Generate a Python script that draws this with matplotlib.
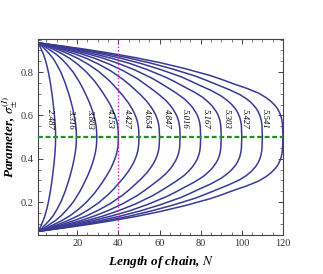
import matplotlib
matplotlib.use("Agg")
import matplotlib.pyplot as plt
from matplotlib.ticker import MultipleLocator

# Upper branch of each closed curve (N, sigma); lower branch mirrors about 0.5
curve_N = [
    [1, 1.85, 2.7, 3.55, 4.4, 5.25, 6.1, 6.95, 7.38, 7.8, 8.23, 8.65, 8.91, 9.08, 9.25, 9.33, 9.42, 9.46, 9.48, 9.5],
    [1, 2.86, 4.72, 6.58, 8.44, 10.3, 12.16, 14.02, 14.95, 15.88, 16.81, 17.74, 18.3, 18.67, 19.04, 19.23, 19.41, 19.51, 19.56, 19.6],
    [1, 3.85, 6.7, 9.55, 12.4, 15.25, 18.1, 20.95, 22.38, 23.8, 25.23, 26.65, 27.51, 28.08, 28.65, 28.93, 29.22, 29.36, 29.44, 29.5],
    [1, 4.9, 8.8, 12.7, 16.6, 20.5, 24.4, 28.3, 30.25, 32.2, 34.15, 36.1, 37.27, 38.05, 38.83, 39.22, 39.61, 39.81, 39.92, 40],
    [1, 5.9, 10.8, 15.7, 20.6, 25.5, 30.4, 35.3, 37.75, 40.2, 42.65, 45.1, 46.57, 47.55, 48.53, 49.02, 49.51, 49.76, 49.9, 50],
    [1, 6.9, 12.8, 18.7, 24.6, 30.5, 36.4, 42.3, 45.25, 48.2, 51.15, 54.1, 55.87, 57.05, 58.23, 58.82, 59.41, 59.71, 59.88, 60],
    [1, 7.9, 14.8, 21.7, 28.6, 35.5, 42.4, 49.3, 52.75, 56.2, 59.65, 63.1, 65.17, 66.55, 67.93, 68.62, 69.31, 69.66, 69.86, 70],
    [1, 8.9, 16.8, 24.7, 32.6, 40.5, 48.4, 56.3, 60.25, 64.2, 68.15, 72.1, 74.47, 76.05, 77.63, 78.42, 79.21, 79.61, 79.84, 80],
    [1, 9.9, 18.8, 27.7, 36.6, 45.5, 54.4, 63.3, 67.75, 72.2, 76.65, 81.1, 83.77, 85.55, 87.33, 88.22, 89.11, 89.56, 89.82, 90],
    [1, 10.9, 20.8, 30.7, 40.6, 50.5, 60.4, 70.3, 75.25, 80.2, 85.15, 90.1, 93.07, 95.05, 97.03, 98.02, 99.01, 99.5, 99.8, 100],
    [1, 11.9, 22.8, 33.7, 44.6, 55.5, 66.4, 77.3, 82.75, 88.2, 93.65, 99.1, 102.37, 104.55, 106.73, 107.82, 108.91, 109.46, 109.78, 110],
    [1, 12.9, 24.8, 36.7, 48.6, 60.5, 72.4, 84.3, 90.25, 96.2, 102.15, 108.1, 111.67, 114.05, 116.43, 117.62, 118.81, 119.41, 119.76, 120],
]
curve_sigma = [
    [.935, .920, .902, .883, .860, .830, .795, .750, .723, .695, .663, .628, .603, .585, .564, .552, .537, .526, .516, .500],
    [.935, .920, .902, .883, .861, .831, .797, .753, .727, .700, .669, .635, .610, .592, .571, .559, .543, .531, .520, .500],
    [.935, .920, .902, .884, .861, .832, .799, .756, .731, .704, .675, .642, .618, .600, .578, .566, .549, .536, .524, .500],
    [.935, .920, .903, .884, .862, .834, .801, .760, .735, .709, .680, .649, .625, .607, .586, .573, .555, .541, .528, .500],
    [.935, .920, .903, .884, .862, .835, .803, .763, .739, .713, .686, .655, .632, .615, .593, .579, .561, .546, .532, .500],
    [.935, .920, .903, .884, .863, .836, .805, .766, .743, .718, .692, .662, .639, .622, .600, .586, .567, .551, .536, .500],
    [.935, .920, .903, .885, .863, .837, .806, .769, .746, .722, .697, .669, .647, .629, .607, .593, .573, .556, .540, .500],
    [.935, .920, .903, .885, .864, .838, .808, .772, .750, .727, .703, .676, .654, .637, .614, .600, .579, .562, .544, .500],
    [.935, .920, .904, .885, .864, .840, .810, .775, .754, .731, .709, .683, .661, .644, .621, .607, .585, .567, .548, .500],
    [.935, .920, .904, .886, .865, .841, .812, .779, .758, .736, .715, .689, .668, .651, .629, .613, .591, .572, .552, .500],
    [.935, .920, .904, .886, .866, .842, .814, .782, .762, .741, .720, .696, .676, .659, .636, .620, .597, .577, .556, .500],
    [.935, .920, .904, .886, .866, .843, .816, .785, .766, .745, .726, .703, .683, .666, .643, .627, .603, .582, .560, .500],
]
curve_labels = ["2.487", "3.316", "3.803", "4.153", "4.427", "4.654",
                "4.847", "5.016", "5.167", "5.303", "5.427", "5.541"]
label_N = [7.0, 17.2, 26.4, 35.8, 44.2, 53.9, 63.6, 72.5, 82.5, 92.7, 101.6, 111.3]
label_sigma = 0.585
x_ticks = [20, 40, 60, 80, 100, 120]
y_ticks = [0.2, 0.4, 0.6, 0.8]
N_marker = 40
sigma_mid = 0.5

plt.rcParams['mathtext.fontset'] = 'stix'
fig = plt.figure(figsize=(3.23, 2.74), dpi=100)
ax = fig.add_axes([0.118, 0.142, 0.758, 0.716])

blue = '#3a3a96'
for Ns, ss in zip(curve_N, curve_sigma):
    xs = list(Ns) + list(Ns[::-1])
    ys = list(ss) + [1 - s for s in ss[::-1]]
    ax.plot(xs, ys, color=blue, lw=1.1, zorder=2, solid_joinstyle='round')

ax.axvline(N_marker, color='#d020d0', lw=1.0, ls=(0, (1, 1.5)), zorder=3)
ax.plot([1, 120], [sigma_mid, sigma_mid], color='#2a8c2a', lw=1.6,
        ls=(0, (2.2, 1.2)), zorder=4)

for lx, lab in zip(label_N, curve_labels):
    ax.text(lx, label_sigma, lab, rotation=-90, ha='center', va='center',
            fontsize=6.3, family='Liberation Serif', style='italic', zorder=5)

ax.set_xlim(1, 120)
ax.set_ylim(0.048, 0.953)
ax.set_xticks(x_ticks)
ax.set_yticks(y_ticks)
ax.set_xticklabels([str(t) for t in x_ticks])
ax.set_yticklabels([str(t) for t in y_ticks])
ax.xaxis.set_minor_locator(MultipleLocator(5))
ax.yaxis.set_minor_locator(MultipleLocator(0.05))
ax.tick_params(which='both', direction='in', top=True, right=True,
               color='#444444', labelcolor='#333333')
ax.tick_params(which='major', length=3.5, width=0.7, labelsize=7.5, pad=3)
ax.tick_params(which='minor', length=2, width=0.5)
for lab in ax.get_xticklabels() + ax.get_yticklabels():
    lab.set_family('Liberation Serif')
for sp in ax.spines.values():
    sp.set_color('#444444')
    sp.set_linewidth(0.8)

ax.set_xlabel('Length of chain, $N$', family='Liberation Serif',
              style='italic', weight='bold', fontsize=9.5, labelpad=4)
ax.set_ylabel(r'Parameter, $\sigma_{\pm}^{(I)}$', family='Liberation Serif',
              style='italic', weight='bold', fontsize=9.5, labelpad=1)

fig.savefig('out.png', dpi=100)
